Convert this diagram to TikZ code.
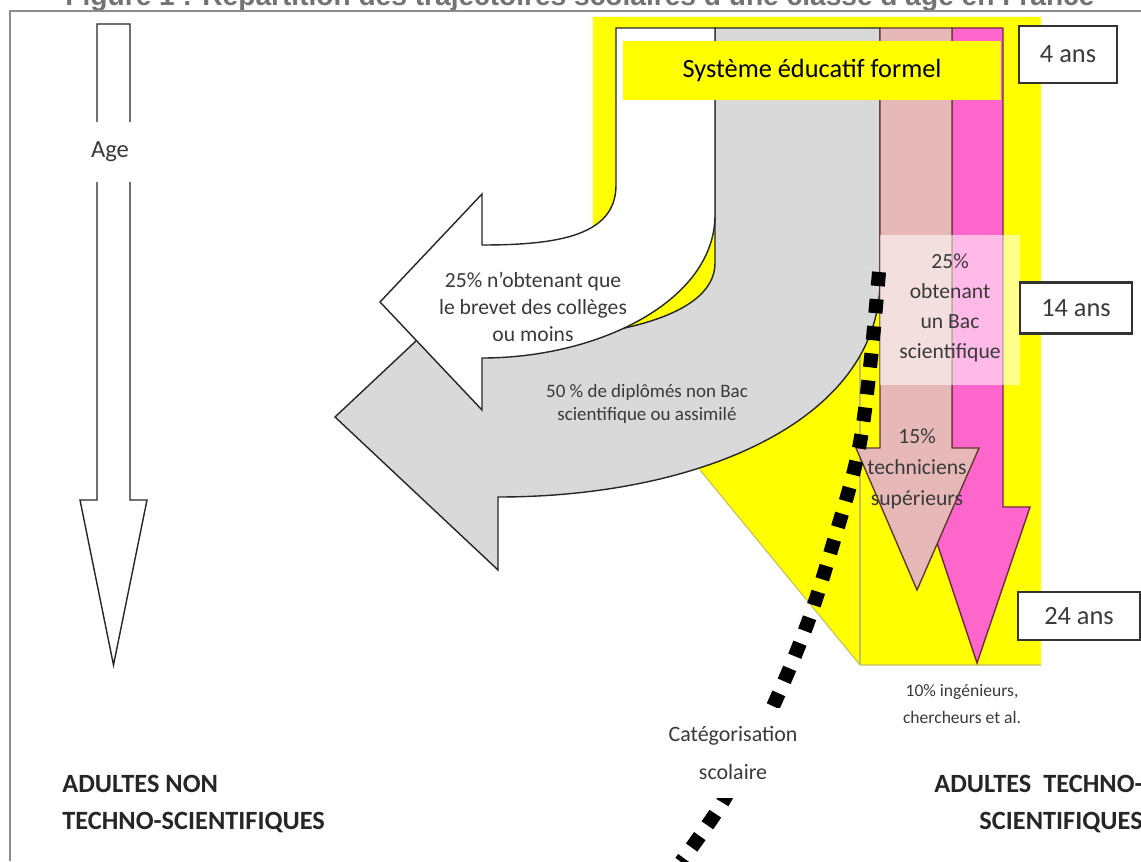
\documentclass[tikz,border=0pt]{standalone}
\usepackage{fontspec}
\setmainfont{Carlito}
\newfontfamily\titrefont{Liberation Sans}
\usetikzlibrary{positioning, calc}

\definecolor{jaune}{RGB}{255,255,0}
\definecolor{gris}{RGB}{217,217,217}
\definecolor{rose}{RGB}{230,185,184}
\definecolor{fuchsia}{RGB}{255,102,204}
\definecolor{kaki}{RGB}{196,188,96}
\definecolor{brun}{RGB}{96,56,46}
\definecolor{prune}{RGB}{112,40,72}
\definecolor{encre}{RGB}{58,58,58}
\definecolor{cadre}{RGB}{140,140,140}

\tikzset{
	contour/.style={draw=black!85, line width=0.8pt, line join=miter},
	anbox/.style={draw=black!80, line width=1.4pt, fill=white, inner sep=0pt, font=\fontsize{15}{18}\selectfont, text=encre},
	legende/.style={align=center, inner sep=0pt, text=encre},
}

\begin{document}
\begin{tikzpicture}[x=0.02cm, y=-0.02cm]
	\useasboundingbox (0,0) rectangle (1141,861);
	\clip (0,0) rectangle (1141,861);
	
	% titre et cadre
	\node[anchor=base, text=black!55, font=\titrefont\bfseries\fontsize{16}{19}\selectfont] (titre) at (580,6) {Figure 1 : Répartition des trajectoires scolaires d’une classe d’âge en France};
	\draw[cadre, line width=1.1pt] (10,861) -- (10,11) -- (1141,11);
	
	% fond jaune
	\fill[jaune] (593,17) -- (1041,17) -- (1041,665) -- (860,665) -- (593,340) -- cycle;
	\draw[kaki, line width=0.6pt] (700,470) -- (860,665) -- (1041,665);
	\draw[kaki, line width=0.6pt] (860,290) -- (860,665);
	
	% fleche grise
	\draw[contour, fill=gris] (715,28) -- (715,263) .. controls (715,320) and (600,340) .. (498,340) -- (498,264) -- (335,417) -- (498,570) -- (498,497) .. controls (700,497) and (880,420) .. (880,280) -- (880,28) -- cycle;
	% fleche blanche
	\draw[contour, fill=white] (616,28) -- (616,185) .. controls (616,235) and (560,245) .. (482,245) -- (482,194) -- (380,302) -- (482,410) -- (482,358) .. controls (600,358) and (715,300) .. (715,215) -- (715,28) -- cycle;
	% fleches roses
	\draw[draw=prune, line width=0.8pt, fill=fuchsia] (952,28) -- (952,507) -- (925,507) -- (977,663) -- (1030,507) -- (1003,507) -- (1003,28) -- cycle;
	\draw[draw=brun, line width=0.8pt, fill=rose] (880,28) -- (880,448) -- (856,448) -- (917,590) -- (979,448) -- (952,448) -- (952,28) -- cycle;
	
	\node[fill=jaune, minimum width=7.56cm, minimum height=1.18cm, font=\fontsize{15}{18}\selectfont] (banniere) at (812,70.5) {Système éducatif formel};
	\fill[white, opacity=0.55] (880,235) rectangle (1020,385);
	
	% categorisation
	\draw[line width=8pt, dash pattern=on 8pt off 7.5pt] plot[smooth, tension=0.6] coordinates {(879,272) (870,367) (858,453) (835,537) (808,622) (775,702) (747,757) (719,808) (681,862)};
	\node[legende, fill=white, minimum width=3.2cm, minimum height=1.8cm, font=\fontsize{12.5}{22}\selectfont] (categ) at (733,753) {Catégorisation\\scolaire};
	
	% textes des fleches
	\node[legende, font=\fontsize{12.3}{15.3}\selectfont] (brevet) at (533,307) {25\% n’obtenant que\\le brevet des collèges\\ou moins};
	\node[legende, font=\fontsize{10.8}{13}\selectfont] (nonbac) at (647,404) {50 \% de diplômés non Bac\\scientifique ou assimilé};
	\node[legende, font=\fontsize{12.3}{17.2}\selectfont] (bacsci) at (950,308) {25\%\\obtenant\\un Bac\\scientifique};
	\node[legende, font=\fontsize{12.3}{17.5}\selectfont] (techsup) at (917,469) {15\%\\techniciens\\supérieurs};
	\node[legende, font=\fontsize{10}{15.3}\selectfont] (inge) at (962,704) {10\% ingénieurs,\\chercheurs et al.};
	
	% ages
	\draw[contour, fill=white] (97,24) -- (130,24) -- (130,500) -- (147,500) -- (113.5,665) -- (80,500) -- (97,500) -- cycle;
	\node[fill=white, minimum width=1.3cm, minimum height=1.2cm, font=\fontsize{14}{16}\selectfont, text=encre] (age) at (110,152) {Age};
	\node[anbox, minimum width=1.96cm, minimum height=1.14cm] (an4) at (1068,54.5) {4 ans};
	\node[anbox, minimum width=2.24cm, minimum height=1.02cm] (an14) at (1076,308) {14 ans};
	\node[anbox, minimum width=2.44cm, minimum height=0.96cm] (an24) at (1079,616) {24 ans};
	
	% adultes
	\node[legende, align=left, anchor=west, font=\bfseries\fontsize{15}{21}\selectfont, text=black!85] (adnon) at (62,804) {ADULTES NON\\TECHNO-SCIENTIFIQUES};
	\node[legende, align=right, anchor=east, font=\bfseries\fontsize{15}{21}\selectfont, text=black!85] (adtech) at (1143,804) {ADULTES\ \ TECHNO-\\SCIENTIFIQUES};
\end{tikzpicture}
\end{document}
